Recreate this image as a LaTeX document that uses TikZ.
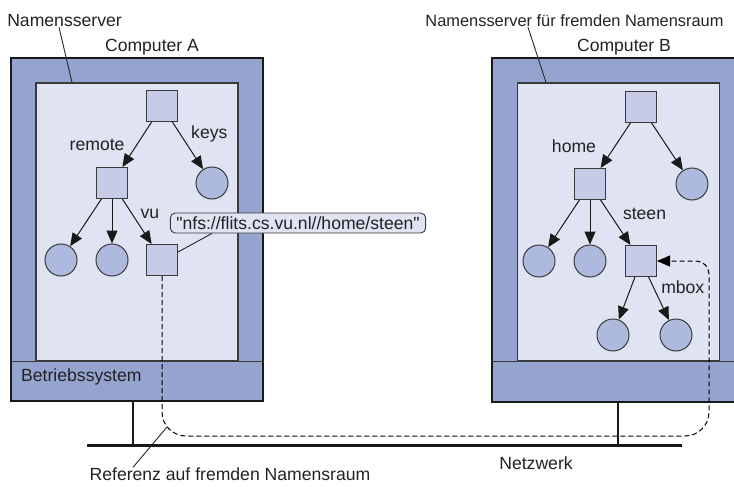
\documentclass[tikz,border=0pt]{standalone}
\usepackage{fontspec}
\setmainfont{Liberation Sans}
\newfontfamily\urlfont{Liberation Sans}
\usetikzlibrary{arrows.meta, positioning}
\definecolor{osblue}{HTML}{95A3CF}
\definecolor{panel}{HTML}{DFE3F2}
\definecolor{dirfill}{HTML}{C6CBE8}
\definecolor{filefill}{HTML}{ADB9DD}
\definecolor{ink}{HTML}{222222}
\definecolor{edge}{HTML}{3A3A3A}
\tikzstyle{computer} = [
    rectangle,
    minimum width=252pt, minimum height=343pt, inner sep=0pt,
    draw=black!90, line width=2pt, fill=osblue]
\tikzstyle{server} = [
    rectangle,
    minimum width=202pt, minimum height=278pt, inner sep=0pt,
    draw=edge, line width=1.2pt, fill=panel]
\tikzstyle{dir} = [
    rectangle,
    minimum size=31pt, inner sep=0pt,
    draw=edge, line width=1pt, fill=dirfill]
\tikzstyle{file} = [
    circle,
    minimum size=32pt, inner sep=0pt,
    draw=edge, line width=1pt, fill=filefill]
\tikzstyle{txt} = [
    inner sep=0pt, text=ink,
    font=\fontsize{17.6}{20}\selectfont]
\tikzstyle{callout} = [
    rectangle, rounded corners=5pt,
    minimum height=20pt, inner xsep=6pt, inner ysep=1pt,
    draw=edge, line width=0.9pt, fill=panel, text=ink,
    font=\urlfont\fontsize{17.6}{20}\selectfont]
\tikzstyle{arrow} = [line width=1pt, draw=black!90, -{Triangle[length=13pt,width=11pt]}]
\tikzstyle{leader} = [line width=0.9pt, draw=black!85]
\tikzstyle{wire} = [line width=3pt, draw=black!90]
\tikzstyle{stand} = [line width=2.5pt, draw=black!90]
\tikzstyle{reference} = [line width=1pt, draw=black, dash pattern=on 5pt off 3pt, -{Triangle[length=13pt,width=11pt]}]

\begin{document}
\begin{tikzpicture}[x=1pt, y=-1pt, node distance=77pt]
        \clip (0,0) rectangle (734,487);

        % Netzwerk
        \coordinate (net_l) at (87,445);
        \coordinate (net_r) at (682,445);
        \coordinate (tap_a) at (133,445);
        \coordinate (tap_b) at (618,445);
        \draw [wire] (net_l) -- (net_r);

        \node (comp_a) [computer] at (137,229.5) {};
        \node (comp_b) [computer] at (618,230) {};
        \draw [stand] (tap_a) -- (tap_a |- comp_a.south);
        \draw [stand] (tap_b) -- (tap_b |- comp_b.south);

        \node (server_a) [server] at (137,222) {};
        \node (server_b) [server] at (618.5,222) {};
        \draw [line width=1.2pt, draw=edge] (comp_a.west |- server_a.south) -- (comp_a.east |- server_a.south);
        \draw [line width=1.2pt, draw=edge] (comp_b.west |- server_b.south) -- (comp_b.east |- server_b.south);

        % Namensraum auf Computer A
        \node (root_a) [dir] at (162,106) {};
        \node (remote_a) [dir, below of=root_a, xshift=-50pt] {};
        \node (keys_a) [file, below of=root_a, xshift=50pt] {};
        \node (leaf_a1) [file, below of=remote_a, xshift=-51pt] {};
        \node (leaf_a2) [file, below of=remote_a] {};
        \node (vu_a) [dir, below of=remote_a, xshift=50pt] {};

        \draw [arrow] (root_a) -- node[txt, anchor=east, xshift=-12pt] {remote} (remote_a);
        \draw [arrow] (root_a) -- node[txt, anchor=west, xshift=3pt, yshift=12pt] {keys} (keys_a);
        \draw [arrow] (remote_a) -- (leaf_a1);
        \draw [arrow] (remote_a) -- (leaf_a2);
        \draw [arrow] (remote_a) -- node[txt, anchor=west, xshift=3pt, yshift=8pt] {vu} (vu_a);

        % Namensraum auf Computer B
        \node (root_b) [dir] at (641,107) {};
        \node (home_b) [dir, below of=root_b, xshift=-51pt] {};
        \node (file_b) [file, below of=root_b, xshift=51pt] {};
        \node (leaf_b1) [file, below of=home_b, xshift=-51pt] {};
        \node (leaf_b2) [file, below of=home_b] {};
        \node (mbox_b) [dir, below of=home_b, xshift=51pt] {};
        \node (mail_b1) [file, below of=mbox_b, xshift=-28pt, yshift=3pt] {};
        \node (mail_b2) [file, below of=mbox_b, xshift=35pt, yshift=3pt] {};

        \draw [arrow] (root_b) -- node[txt, anchor=east, xshift=-19pt, yshift=-1pt] {home} (home_b);
        \draw [arrow] (root_b) -- (file_b);
        \draw [arrow] (home_b) -- (leaf_b1);
        \draw [arrow] (home_b) -- (leaf_b2);
        \draw [arrow] (home_b) -- node[txt, anchor=west, xshift=7pt, yshift=9pt] {steen} (mbox_b);
        \draw [arrow] (mbox_b) -- (mail_b1);
        \draw [arrow] (mbox_b) -- node[txt, anchor=west, xshift=2pt, yshift=11pt] {mbox} (mail_b2);

        % Beschriftungen
        \node (ns_a) [txt] at (64.5,21) {Namensserver};
        \node (cap_a) [txt] at (152,47) {Computer A};
        \node (ns_b) [txt, font=\fontsize{16.4}{20}\selectfont] at (574.5,21) {Namensserver für fremden Namensraum};
        \node (cap_b) [txt] at (624,47) {Computer B};
        \node (os_a) [txt, anchor=west] at (21,377) {Betriebssystem};
        \node (net_label) [txt] at (536,463) {Netzwerk};
        \node (ref_label) [txt] at (230,474) {Referenz auf fremden Namensraum};
        \coordinate (ref_pt) at (167,427);

        \draw [leader] (ns_a.south -| 59,0) -- (server_a.north -| 72,0);
        \draw [leader] (ns_b.south -| 528,0) -- (server_b.north -| 546,0);
        \draw [leader] (ref_label.north -| 133,0) -- (ref_pt);

        \node (url) [callout] at (298,223) {"nfs://flits.cs.vu.nl//home/steen"};
        \draw [leader] (url.south -| 212,0) -- ([yshift=8pt]vu_a.east);

        \draw [reference, rounded corners=24pt] (vu_a.south) |- (709,436) [rounded corners=13pt] |- (mbox_b.east);
    \end{tikzpicture}
\end{document}
